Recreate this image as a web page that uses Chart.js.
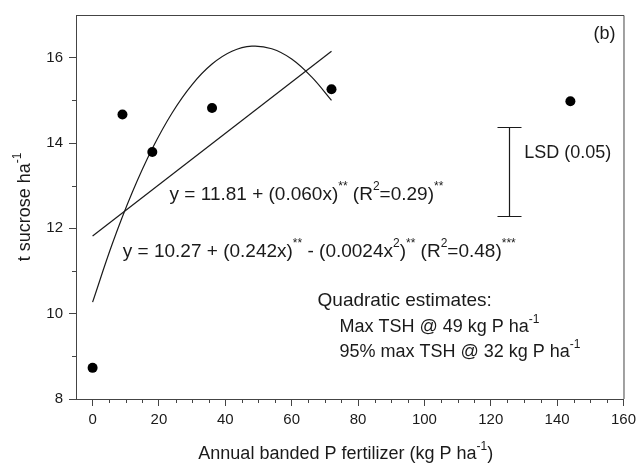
<!DOCTYPE html>
<html>
<head>
<meta charset="utf-8">
<script src="https://cdn.jsdelivr.net/npm/chart.js@4.4.1/dist/chart.umd.min.js"></script>
<style>
  html, body { margin: 0; padding: 0; background: #fff; }
  #wrap { width: 641px; height: 466px; }
</style>
</head>
<body>
<div id="wrap"><canvas id="chart"></canvas></div>
<script>
// observed means
const xPts = [0, 9, 18, 36, 72, 144];
const yPts = [8.73, 14.67, 13.79, 14.82, 15.26, 14.98];

// linear fit at its two ends
const linX = [0, 72];
const linY = [11.82, 16.15];

// quadratic fit
const quadX = [0, 6, 12, 18, 24, 30, 36, 42, 48, 54, 60, 66, 72];
const quadY = [10.27, 11.65, 12.85, 13.87, 14.71, 15.37, 15.85, 16.15, 16.27, 16.21, 15.97, 15.55, 15.0];

// LSD bar
const lsdX = 125.5;
const lsdLow = 12.3;
const lsdHigh = 14.38;

const xTicks = [0, 20, 40, 60, 80, 100, 120, 140, 160];
const xMinor = [5, 10, 15, 25, 30, 35, 45, 50, 55, 65, 70, 75, 85, 90, 95, 105, 110, 115, 125, 130, 135, 145, 150, 155];
const yTicks = [8, 10, 12, 14, 16];
const yMinor = [9, 11, 13, 15];

const FONT = '"Liberation Sans", Arial, sans-serif';
const INK = '#1a1a1a';
const AXIS = '#444';

// text notes, segments: plain strings or {sup: '...'}
const notes = [
  { x: 157.6, y: 16.56, size: 18, align: 'right', parts: ['(b)'] },
  { x: 130.1, y: 13.77, size: 18, parts: ['LSD (0.05)'] },
  { x: 23.2, y: 12.79, size: 19, parts: ['y = 11.81 + (0.060x)', { sup: '**' }, ' (R', { sup: '2' }, '=0.29)', { sup: '**' }] },
  { x: 9.1, y: 11.46, size: 19, parts: ['y = 10.27 + (0.242x)', { sup: '**' }, ' - (0.0024x', { sup: '2' }, ')', { sup: '**' }, ' (R', { sup: '2' }, '=0.48)', { sup: '***' }] },
  { x: 67.8, y: 10.31, size: 19, parts: ['Quadratic estimates:'] },
  { x: 74.4, y: 9.68, size: 18, parts: ['Max TSH @ 49 kg P ha', { sup: '-1' }] },
  { x: 74.4, y: 9.10, size: 18, parts: ['95% max TSH @ 32 kg P ha', { sup: '-1' }] }
];

const richWidth = (ctx, parts, size) => {
  let w = 0;
  parts.forEach(p => {
    if (typeof p === 'string') { ctx.font = `${size}px ${FONT}`; w += ctx.measureText(p).width; }
    else { ctx.font = `${Math.round(size * 0.65)}px ${FONT}`; w += ctx.measureText(p.sup).width; }
  });
  return w;
};

const drawRich = (ctx, parts, x, y, size, align) => {
  let cx = align === 'right' ? x - richWidth(ctx, parts, size) : align === 'center' ? x - richWidth(ctx, parts, size) / 2 : x;
  ctx.textBaseline = 'middle';
  ctx.textAlign = 'left';
  parts.forEach(p => {
    if (typeof p === 'string') {
      ctx.font = `${size}px ${FONT}`;
      ctx.fillText(p, cx, y);
      cx += ctx.measureText(p).width;
    } else {
      ctx.font = `${Math.round(size * 0.65)}px ${FONT}`;
      ctx.fillText(p.sup, cx, y - size * 0.4);
      cx += ctx.measureText(p.sup).width;
    }
  });
};

const extrasPlugin = {
  id: 'extras',
  afterDraw: (chart) => {
    const { ctx, chartArea } = chart;
    const xs = chart.scales.x, ys = chart.scales.y;
    ctx.save();

    // frame top and right
    ctx.strokeStyle = AXIS;
    ctx.lineWidth = 1;
    ctx.beginPath();
    ctx.moveTo(chartArea.left, chartArea.top + 0.5);
    ctx.lineTo(chartArea.right + 0.5, chartArea.top + 0.5);
    ctx.lineTo(chartArea.right + 0.5, chartArea.bottom);
    ctx.stroke();

    // minor ticks
    ctx.beginPath();
    xMinor.forEach(v => {
      const px = Math.round(xs.getPixelForValue(v)) + 0.5;
      ctx.moveTo(px, chartArea.bottom);
      ctx.lineTo(px, chartArea.bottom + 4);
    });
    yMinor.forEach(v => {
      const py = Math.round(ys.getPixelForValue(v)) + 0.5;
      ctx.moveTo(chartArea.left, py);
      ctx.lineTo(chartArea.left - 4, py);
    });
    ctx.stroke();

    // LSD bar
    const bx = Math.round(xs.getPixelForValue(lsdX)) + 0.5;
    const top = Math.round(ys.getPixelForValue(lsdHigh)) + 0.5;
    const bot = Math.round(ys.getPixelForValue(lsdLow)) + 0.5;
    ctx.strokeStyle = INK;
    ctx.lineWidth = 1.2;
    ctx.beginPath();
    ctx.moveTo(bx, top); ctx.lineTo(bx, bot);
    ctx.moveTo(bx - 12, top); ctx.lineTo(bx + 12, top);
    ctx.moveTo(bx - 12, bot); ctx.lineTo(bx + 12, bot);
    ctx.stroke();

    // notes
    ctx.fillStyle = INK;
    notes.forEach(n => {
      drawRich(ctx, n.parts, xs.getPixelForValue(n.x), ys.getPixelForValue(n.y), n.size, n.align);
    });

    // axis titles
    const midX = (chartArea.left + chartArea.right) / 2;
    drawRich(ctx, ['Annual banded P fertilizer (kg P ha', { sup: '-1' }, ')'], midX - 4, chart.height - 12, 18, 'center');
    ctx.translate(25, (chartArea.top + chartArea.bottom) / 2);
    ctx.rotate(-Math.PI / 2);
    drawRich(ctx, ['t sucrose ha', { sup: '-1' }], 0, 0, 18, 'center');
    ctx.restore();
  }
};

const toPoints = (xs, ys) => xs.map((x, i) => ({ x: x, y: ys[i] }));

new Chart(document.getElementById('chart'), {
  type: 'scatter',
  data: {
    datasets: [
      {
        label: 'means',
        data: toPoints(xPts, yPts),
        pointRadius: 5,
        pointBackgroundColor: '#000',
        pointBorderColor: '#000',
        pointBorderWidth: 0,
        showLine: false
      },
      {
        label: 'linear',
        data: toPoints(linX, linY),
        showLine: true,
        pointRadius: 0,
        borderColor: INK,
        borderWidth: 1.2
      },
      {
        label: 'quadratic',
        data: toPoints(quadX, quadY),
        showLine: true,
        pointRadius: 0,
        borderColor: INK,
        borderWidth: 1.2,
        tension: 0.4
      }
    ]
  },
  options: {
    responsive: true,
    maintainAspectRatio: false,
    animation: false,
    layout: { padding: { top: 14, right: 13, left: 0, bottom: 0 } },
    plugins: {
      legend: { display: false },
      tooltip: { enabled: false }
    },
    scales: {
      x: {
        type: 'linear',
        min: -5,
        max: 160,
        afterBuildTicks: (scale) => { scale.ticks = xTicks.map(v => ({ value: v })); },
        afterFit: (scale) => { scale.height = 67; },
        grid: { drawOnChartArea: false, tickLength: 7, tickColor: AXIS },
        border: { color: AXIS },
        ticks: { font: { family: FONT, size: 15 }, color: INK, padding: 5, maxRotation: 0 }
      },
      y: {
        min: 8,
        max: 17,
        afterBuildTicks: (scale) => { scale.ticks = yTicks.map(v => ({ value: v })); },
        afterFit: (scale) => { scale.width = 76; },
        grid: { drawOnChartArea: false, tickLength: 7, tickColor: AXIS },
        border: { color: AXIS },
        ticks: { font: { family: FONT, size: 15 }, color: INK, padding: 6 }
      }
    }
  },
  plugins: [extrasPlugin]
});
</script>
</body>
</html>
